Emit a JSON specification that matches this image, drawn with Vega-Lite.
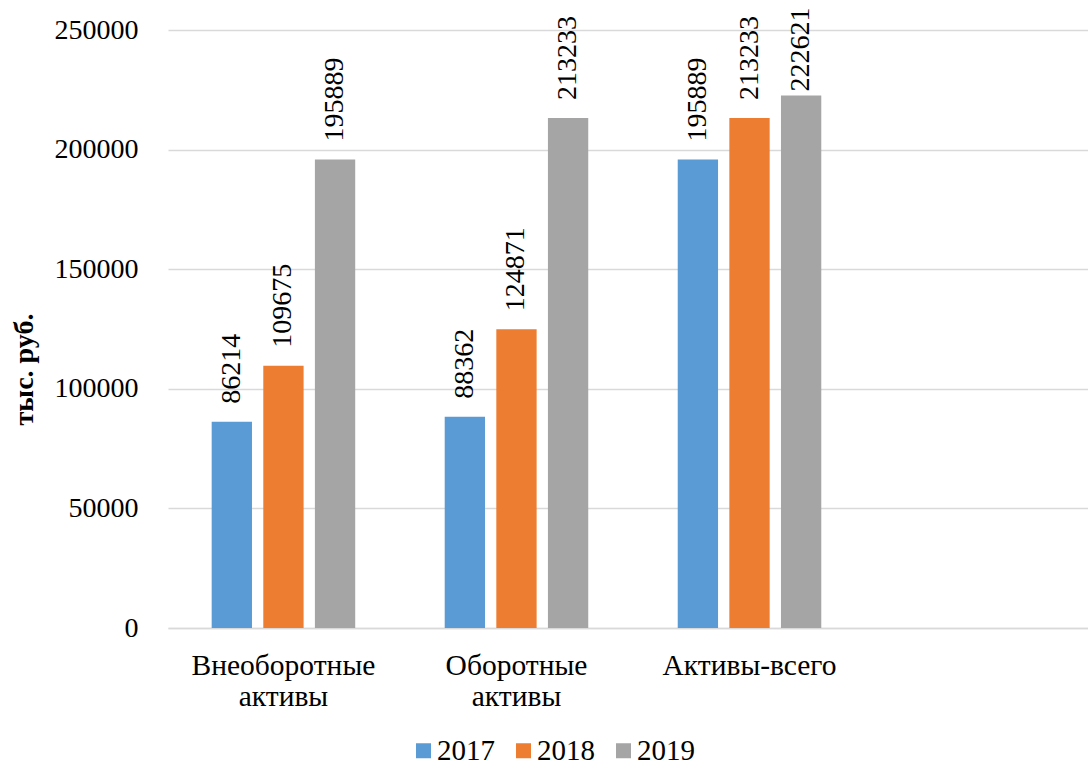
{
  "$schema": "https://vega.github.io/schema/vega-lite/v6.json",
  "width": 920,
  "height": 598,
  "autosize": {"type": "none"},
  "padding": {"left": 168, "top": 30, "right": 0, "bottom": 134},
  "background": "white",
  "config": {
    "view": {"stroke": null},
    "font": "Liberation Serif"
  },
  "data": {
    "values": [
      {"cat": "Внеоборотные активы", "year": "2017", "value": 86214},
      {"cat": "Внеоборотные активы", "year": "2018", "value": 109675},
      {"cat": "Внеоборотные активы", "year": "2019", "value": 195889},
      {"cat": "Оборотные активы", "year": "2017", "value": 88362},
      {"cat": "Оборотные активы", "year": "2018", "value": 124871},
      {"cat": "Оборотные активы", "year": "2019", "value": 213233},
      {"cat": "Активы-всего", "year": "2017", "value": 195889},
      {"cat": "Активы-всего", "year": "2018", "value": 213233},
      {"cat": "Активы-всего", "year": "2019", "value": 222621}
    ]
  },
  "encoding": {
    "x": {
      "field": "cat",
      "type": "nominal",
      "sort": null,
      "scale": {"paddingInner": 0.384, "paddingOuter": 0.666, "align": 0.1407, "round": false},
      "axis": {
        "title": null,
        "labelAngle": 0,
        "ticks": false,
        "tickSize": 0,
        "grid": false,
        "domainColor": "#D9D9D9",
        "domainWidth": 1.5,
        "labelPadding": 23,
        "labelLineHeight": 31,
        "labelFontSize": 29.5,
        "labelFont": "Liberation Serif",
        "labelColor": "#000000",
        "labelLimit": 0,
        "labelExpr": "split(datum.label, ' ')"
      }
    },
    "xOffset": {
      "field": "year",
      "type": "nominal",
      "scale": {"paddingInner": 0.219, "paddingOuter": 0, "round": false}
    },
    "y": {
      "field": "value",
      "type": "quantitative",
      "scale": {"domain": [0, 250000], "nice": false},
      "axis": {
        "values": [0, 50000, 100000, 150000, 200000, 250000],
        "format": "d",
        "domain": false,
        "ticks": false,
        "tickSize": 0,
        "grid": true,
        "gridColor": "#D9D9D9",
        "gridWidth": 1.5,
        "labelPadding": 30,
        "labelFontSize": 28,
        "labelFont": "Liberation Serif",
        "labelColor": "#000000",
        "title": "тыс. руб.",
        "titleFont": "Liberation Serif",
        "titleFontSize": 28,
        "titleFontWeight": "bold",
        "titleColor": "#000000",
        "titleAngle": 270,
        "titleAlign": "center",
        "titleBaseline": "middle",
        "titleX": -144,
        "titleY": 339
      }
    }
  },
  "layer": [
    {
      "mark": {"type": "bar"},
      "encoding": {
        "color": {
          "field": "year",
          "type": "nominal",
          "scale": {"domain": ["2017", "2018", "2019"], "range": ["#5B9BD5", "#ED7D31", "#A5A5A5"]},
          "legend": {
            "title": null,
            "orient": "none",
            "direction": "horizontal",
            "legendX": 241,
            "legendY": 706,
            "padding": 0,
            "symbolType": "square",
            "symbolSize": 225,
            "symbolStrokeWidth": 0,
            "labelOffset": -1,
            "columnPadding": 14,
            "labelFont": "Liberation Serif",
            "labelFontSize": 29,
            "labelColor": "#000000"
          }
        }
      }
    },
    {
      "transform": [{"filter": "datum.value < 220000"}],
      "mark": {"type": "text", "angle": 270, "align": "left", "baseline": "middle", "dx": 18, "fontSize": 28, "font": "Liberation Serif", "color": "#000000"},
      "encoding": {"text": {"field": "value", "type": "quantitative", "format": "d"}}
    },
    {
      "transform": [{"filter": "datum.value >= 220000"}],
      "mark": {"type": "text", "angle": 270, "align": "left", "baseline": "middle", "dx": 4, "fontSize": 28, "font": "Liberation Serif", "color": "#000000"},
      "encoding": {"text": {"field": "value", "type": "quantitative", "format": "d"}}
    }
  ]
}
